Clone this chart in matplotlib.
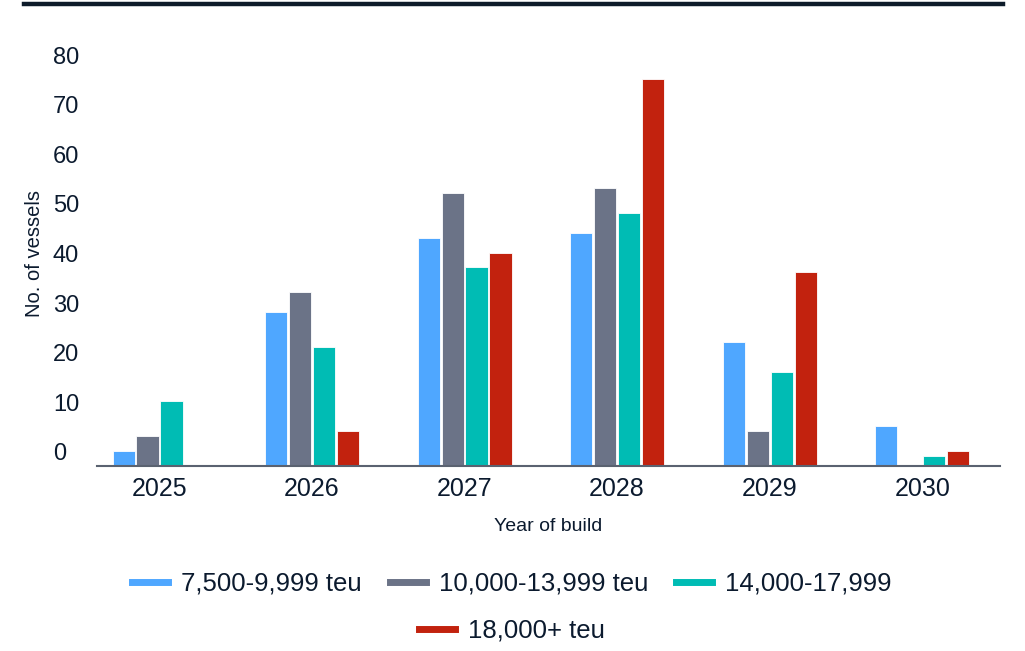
import matplotlib
matplotlib.use('Agg')
import matplotlib.pyplot as plt
from matplotlib.lines import Line2D
from matplotlib.transforms import ScaledTranslation
import numpy as np

years = ['2025', '2026', '2027', '2028', '2029', '2030']
series_names = ['7,500-9,999 teu', '10,000-13,999 teu', '14,000-17,999', '18,000+ teu']
small = [3, 31, 46, 47, 25, 8]
mid = [6, 35, 55, 56, 7, 0]
large = [13, 24, 40, 51, 19, 2]
ultra = [0, 7, 43, 78, 39, 3]
colors = ['#4fa7ff', '#6b7387', '#00bcb4', '#c2220e']

text_col = '#0b1a2e'
plt.rcParams['font.family'] = ['Liberation Sans', 'DejaVu Sans']

fig = plt.figure(figsize=(10.25, 6.51), dpi=100)
ax = fig.add_axes([0.0946, 0.2842, 0.881, 0.6098])

x = np.arange(len(years))
step = 0.157
width = 0.145
all_series = [small, mid, large, ultra]
for i, vals in enumerate(all_series):
    ax.bar(x + (i - 1.5) * step, vals, width, color=colors[i],
           edgecolor='white', linewidth=0.6, zorder=2)

ax.set_xlim(-0.41, 5.51)
ax.set_ylim(0, 80)
ax.set_xticks(x)
ax.set_xticklabels(years, fontsize=18, color=text_col)
ax.set_yticks(range(0, 81, 10))
ax.set_yticklabels([str(v) for v in range(0, 81, 10)], fontsize=17, color=text_col)
ax.tick_params(axis='both', length=0)
ax.tick_params(axis='y', pad=0)
ax.tick_params(axis='x', pad=8)
# y labels are left aligned and sit a bit above their value
shift = ScaledTranslation(-0.44, 0.14, fig.dpi_scale_trans)
for lab in ax.get_yticklabels():
    lab.set_horizontalalignment('left')
    lab.set_transform(lab.get_transform() + shift)

for s in ['top', 'right', 'left']:
    ax.spines[s].set_visible(False)
ax.spines['bottom'].set_color('#5a6270')
ax.spines['bottom'].set_linewidth(1.5)

ax.set_xlabel('Year of build', fontsize=14, color=text_col, labelpad=12)
fig.text(0.034, 0.611, 'No. of vessels', rotation=90, fontsize=14.5,
         color=text_col, ha='center', va='center')

# top rule
fig.add_artist(Line2D([0.0234, 0.979], [0.9945, 0.9945], color='#0d1b2a',
                      linewidth=3.2, transform=fig.transFigure))

handles = [Line2D([0], [0], color=c, linewidth=5) for c in colors]
leg1 = fig.legend(handles[:3], series_names[:3], loc='center', bbox_to_anchor=(0.4995, 0.103),
                  ncol=3, frameon=False, fontsize=18.5, handlelength=1.4,
                  handletextpad=0.5, columnspacing=1.1, labelcolor=text_col)
leg2 = fig.legend(handles[3:], series_names[3:], loc='center', bbox_to_anchor=(0.4995, 0.031),
                  ncol=1, frameon=False, fontsize=18.5, handlelength=1.4,
                  handletextpad=0.5, labelcolor=text_col)

fig.savefig('out.png', dpi=100)
